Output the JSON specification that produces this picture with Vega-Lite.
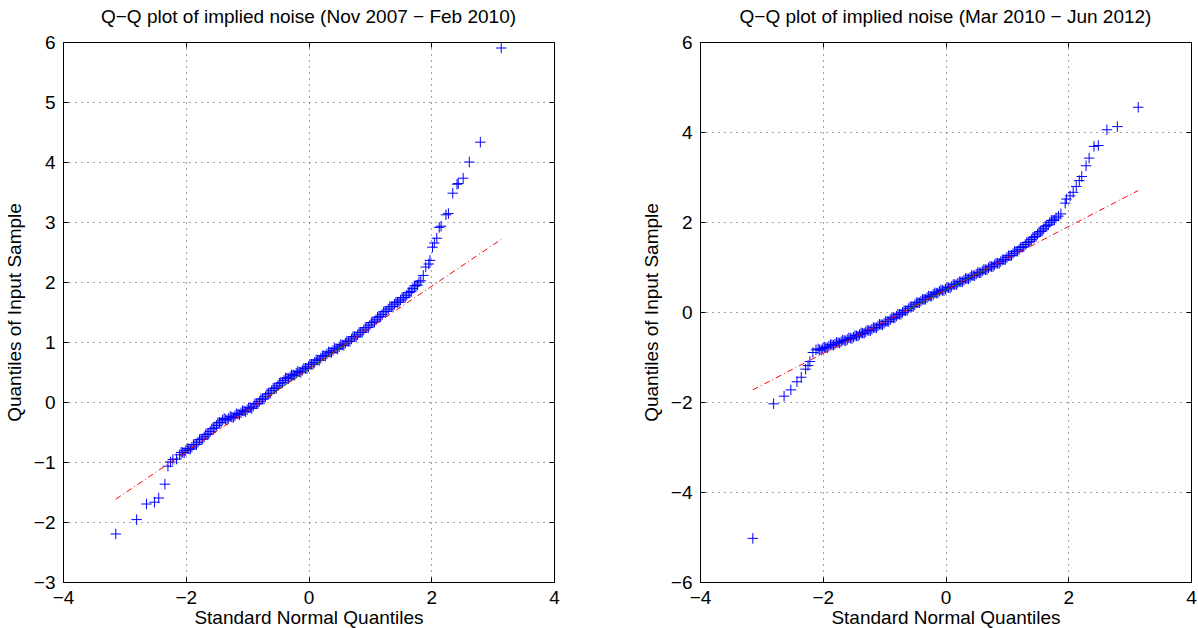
{
  "$schema": "https://vega.github.io/schema/vega-lite/v6.json",
  "padding": {"left": 4, "top": 7, "right": 5, "bottom": 2},
  "background": "white",
  "spacing": 146,
  "bounds": "flush",
  "config": {
    "font": "Liberation Sans",
    "view": {"stroke": "#000000", "strokeWidth": 1},
    "axis": {
      "grid": true, "gridColor": "#444444", "gridDash": [1, 5], "gridWidth": 1, "gridOpacity": 1,
      "domain": true, "domainColor": "#000000", "domainWidth": 1,
      "tickColor": "#000000", "tickSize": -5, "tickWidth": 1,
      "labelFont": "Liberation Sans", "labelFontSize": 19, "labelColor": "#000000",
      "labelFlush": false, "labelOverlap": false, "labelBound": false,
      "titleFont": "Liberation Sans", "titleFontSize": 19, "titleFontWeight": "normal", "titleColor": "#000000"
    },
    "axisX": {"labelPadding": 11, "titlePadding": 1},
    "axisY": {"labelPadding": 13, "titlePadding": 9},
    "title": {"font": "Liberation Sans", "fontSize": 19, "fontWeight": "normal", "color": "#000000", "anchor": "middle", "offset": 6}
  },
  "datasets": {
    "left": [
      {"x": -3.14, "y": -2.2}, {"x": -2.8, "y": -1.96}, {"x": -2.64, "y": -1.7}, {"x": -2.51, "y": -1.67}, {"x": -2.44, "y": -1.6},
      {"x": -2.34, "y": -1.37}, {"x": -2.29, "y": -1.07}, {"x": -2.25, "y": -1.0}, {"x": -2.21, "y": -0.96}, {"x": -2.15, "y": -0.95},
      {"x": -2.1, "y": -0.88}, {"x": -2.05, "y": -0.84}, {"x": -2.0, "y": -0.81}, {"x": -1.95, "y": -0.78}, {"x": -1.9, "y": -0.75},
      {"x": -1.85, "y": -0.71}, {"x": -1.8, "y": -0.67}, {"x": -1.75, "y": -0.62}, {"x": -1.7, "y": -0.58}, {"x": -1.65, "y": -0.54},
      {"x": -1.6, "y": -0.49}, {"x": -1.55, "y": -0.44}, {"x": -1.5, "y": -0.39}, {"x": -1.45, "y": -0.34}, {"x": -1.4, "y": -0.3},
      {"x": -1.35, "y": -0.29}, {"x": -1.3, "y": -0.27}, {"x": -1.25, "y": -0.25}, {"x": -1.2, "y": -0.23}, {"x": -1.15, "y": -0.2},
      {"x": -1.1, "y": -0.18}, {"x": -1.05, "y": -0.15}, {"x": -1.0, "y": -0.13}, {"x": -0.95, "y": -0.1}, {"x": -0.9, "y": -0.07},
      {"x": -0.85, "y": -0.03}, {"x": -0.8, "y": 0.01}, {"x": -0.75, "y": 0.05}, {"x": -0.7, "y": 0.09}, {"x": -0.65, "y": 0.14},
      {"x": -0.6, "y": 0.19}, {"x": -0.55, "y": 0.23}, {"x": -0.5, "y": 0.27}, {"x": -0.45, "y": 0.32}, {"x": -0.4, "y": 0.36},
      {"x": -0.35, "y": 0.4}, {"x": -0.3, "y": 0.42}, {"x": -0.25, "y": 0.45}, {"x": -0.2, "y": 0.48}, {"x": -0.15, "y": 0.5},
      {"x": -0.1, "y": 0.53}, {"x": -0.05, "y": 0.56}, {"x": 0.0, "y": 0.59}, {"x": 0.05, "y": 0.63}, {"x": 0.1, "y": 0.66},
      {"x": 0.15, "y": 0.7}, {"x": 0.2, "y": 0.73}, {"x": 0.25, "y": 0.77}, {"x": 0.3, "y": 0.8}, {"x": 0.35, "y": 0.83},
      {"x": 0.4, "y": 0.86}, {"x": 0.45, "y": 0.89}, {"x": 0.5, "y": 0.92}, {"x": 0.55, "y": 0.95}, {"x": 0.6, "y": 0.98},
      {"x": 0.65, "y": 1.01}, {"x": 0.7, "y": 1.05}, {"x": 0.75, "y": 1.09}, {"x": 0.8, "y": 1.12}, {"x": 0.85, "y": 1.16},
      {"x": 0.9, "y": 1.2}, {"x": 0.95, "y": 1.24}, {"x": 1.0, "y": 1.28}, {"x": 1.05, "y": 1.33}, {"x": 1.1, "y": 1.37},
      {"x": 1.15, "y": 1.42}, {"x": 1.2, "y": 1.46}, {"x": 1.25, "y": 1.51}, {"x": 1.3, "y": 1.55}, {"x": 1.35, "y": 1.59},
      {"x": 1.4, "y": 1.63}, {"x": 1.45, "y": 1.66}, {"x": 1.5, "y": 1.7}, {"x": 1.55, "y": 1.74}, {"x": 1.6, "y": 1.78},
      {"x": 1.65, "y": 1.83}, {"x": 1.7, "y": 1.89}, {"x": 1.75, "y": 1.94}, {"x": 1.8, "y": 2.0}, {"x": 1.83, "y": 2.02},
      {"x": 1.87, "y": 2.11}, {"x": 1.91, "y": 2.25}, {"x": 1.96, "y": 2.3}, {"x": 1.98, "y": 2.36}, {"x": 2.02, "y": 2.58},
      {"x": 2.05, "y": 2.65}, {"x": 2.09, "y": 2.73}, {"x": 2.13, "y": 2.91}, {"x": 2.16, "y": 2.93}, {"x": 2.24, "y": 3.12},
      {"x": 2.28, "y": 3.14}, {"x": 2.35, "y": 3.48}, {"x": 2.42, "y": 3.63}, {"x": 2.44, "y": 3.64}, {"x": 2.52, "y": 3.73},
      {"x": 2.62, "y": 4.0}, {"x": 2.8, "y": 4.33}, {"x": 3.14, "y": 5.9},
      {"x": -2.075, "y": -0.84}, {"x": -2.025, "y": -0.845}, {"x": -1.975, "y": -0.775}, {"x": -1.925, "y": -0.785}, {"x": -1.875, "y": -0.71},
      {"x": -1.825, "y": -0.71}, {"x": -1.775, "y": -0.625}, {"x": -1.725, "y": -0.62}, {"x": -1.675, "y": -0.54}, {"x": -1.625, "y": -0.535},
      {"x": -1.575, "y": -0.445}, {"x": -1.525, "y": -0.435}, {"x": -1.475, "y": -0.345}, {"x": -1.425, "y": -0.34}, {"x": -1.375, "y": -0.275},
      {"x": -1.325, "y": -0.3}, {"x": -1.275, "y": -0.24}, {"x": -1.225, "y": -0.26}, {"x": -1.175, "y": -0.195}, {"x": -1.125, "y": -0.21},
      {"x": -1.075, "y": -0.145}, {"x": -1.025, "y": -0.16}, {"x": -0.975, "y": -0.095}, {"x": -0.925, "y": -0.105}, {"x": -0.875, "y": -0.03},
      {"x": -0.825, "y": -0.03}, {"x": -0.775, "y": 0.05}, {"x": -0.725, "y": 0.05}, {"x": -0.675, "y": 0.135}, {"x": -0.625, "y": 0.145},
      {"x": -0.575, "y": 0.23}, {"x": -0.525, "y": 0.23}, {"x": -0.475, "y": 0.315}, {"x": -0.425, "y": 0.32}, {"x": -0.375, "y": 0.4},
      {"x": -0.325, "y": 0.39}, {"x": -0.275, "y": 0.455}, {"x": -0.225, "y": 0.445}, {"x": -0.175, "y": 0.51}, {"x": -0.125, "y": 0.495},
      {"x": -0.075, "y": 0.565}, {"x": -0.025, "y": 0.555}, {"x": 0.025, "y": 0.63}, {"x": 0.075, "y": 0.625}, {"x": 0.125, "y": 0.7},
      {"x": 0.175, "y": 0.695}, {"x": 0.225, "y": 0.77}, {"x": 0.275, "y": 0.765}, {"x": 0.325, "y": 0.835}, {"x": 0.375, "y": 0.825},
      {"x": 0.425, "y": 0.895}, {"x": 0.475, "y": 0.885}, {"x": 0.525, "y": 0.955}, {"x": 0.575, "y": 0.945}, {"x": 0.625, "y": 1.015},
      {"x": 0.675, "y": 1.01}, {"x": 0.725, "y": 1.09}, {"x": 0.775, "y": 1.085}, {"x": 0.825, "y": 1.16}, {"x": 0.875, "y": 1.16},
      {"x": 0.925, "y": 1.24}, {"x": 0.975, "y": 1.24}, {"x": 1.025, "y": 1.325}, {"x": 1.075, "y": 1.33}, {"x": 1.125, "y": 1.415},
      {"x": 1.175, "y": 1.42}, {"x": 1.225, "y": 1.505}, {"x": 1.275, "y": 1.51}, {"x": 1.325, "y": 1.59}, {"x": 1.375, "y": 1.59},
      {"x": 1.425, "y": 1.665}, {"x": 1.475, "y": 1.66}, {"x": 1.525, "y": 1.74}, {"x": 1.575, "y": 1.74}, {"x": 1.625, "y": 1.825},
      {"x": 1.675, "y": 1.84}, {"x": 1.725, "y": 1.935}, {"x": 1.775, "y": 1.95}
    ],
    "right": [
      {"x": -3.14, "y": -5.03}, {"x": -2.8, "y": -2.04}, {"x": -2.63, "y": -1.87}, {"x": -2.52, "y": -1.73}, {"x": -2.42, "y": -1.55},
      {"x": -2.35, "y": -1.45}, {"x": -2.28, "y": -1.27}, {"x": -2.24, "y": -1.19}, {"x": -2.21, "y": -1.1}, {"x": -2.16, "y": -0.9},
      {"x": -2.11, "y": -0.84}, {"x": -2.05, "y": -0.84}, {"x": -2.0, "y": -0.81}, {"x": -1.95, "y": -0.79}, {"x": -1.9, "y": -0.76},
      {"x": -1.85, "y": -0.73}, {"x": -1.8, "y": -0.71}, {"x": -1.75, "y": -0.68}, {"x": -1.7, "y": -0.66}, {"x": -1.65, "y": -0.63},
      {"x": -1.6, "y": -0.61}, {"x": -1.55, "y": -0.58}, {"x": -1.5, "y": -0.56}, {"x": -1.45, "y": -0.53}, {"x": -1.4, "y": -0.5},
      {"x": -1.35, "y": -0.47}, {"x": -1.3, "y": -0.44}, {"x": -1.25, "y": -0.41}, {"x": -1.2, "y": -0.38}, {"x": -1.15, "y": -0.35},
      {"x": -1.1, "y": -0.31}, {"x": -1.05, "y": -0.28}, {"x": -1.0, "y": -0.25}, {"x": -0.95, "y": -0.21}, {"x": -0.9, "y": -0.17},
      {"x": -0.85, "y": -0.13}, {"x": -0.8, "y": -0.09}, {"x": -0.75, "y": -0.05}, {"x": -0.7, "y": -0.01}, {"x": -0.65, "y": 0.03},
      {"x": -0.6, "y": 0.08}, {"x": -0.55, "y": 0.12}, {"x": -0.5, "y": 0.16}, {"x": -0.45, "y": 0.21}, {"x": -0.4, "y": 0.24},
      {"x": -0.35, "y": 0.28}, {"x": -0.3, "y": 0.32}, {"x": -0.25, "y": 0.35}, {"x": -0.2, "y": 0.39}, {"x": -0.15, "y": 0.42},
      {"x": -0.1, "y": 0.46}, {"x": -0.05, "y": 0.48}, {"x": 0.0, "y": 0.51}, {"x": 0.05, "y": 0.54}, {"x": 0.1, "y": 0.57},
      {"x": 0.15, "y": 0.61}, {"x": 0.2, "y": 0.64}, {"x": 0.25, "y": 0.67}, {"x": 0.3, "y": 0.71}, {"x": 0.35, "y": 0.74},
      {"x": 0.4, "y": 0.77}, {"x": 0.45, "y": 0.81}, {"x": 0.5, "y": 0.84}, {"x": 0.55, "y": 0.87}, {"x": 0.6, "y": 0.91},
      {"x": 0.65, "y": 0.94}, {"x": 0.7, "y": 0.98}, {"x": 0.75, "y": 1.01}, {"x": 0.8, "y": 1.05}, {"x": 0.85, "y": 1.08},
      {"x": 0.9, "y": 1.12}, {"x": 0.95, "y": 1.16}, {"x": 1.0, "y": 1.21}, {"x": 1.05, "y": 1.25}, {"x": 1.1, "y": 1.3},
      {"x": 1.15, "y": 1.35}, {"x": 1.2, "y": 1.39}, {"x": 1.25, "y": 1.44}, {"x": 1.3, "y": 1.5}, {"x": 1.35, "y": 1.55},
      {"x": 1.4, "y": 1.61}, {"x": 1.45, "y": 1.67}, {"x": 1.5, "y": 1.73}, {"x": 1.55, "y": 1.79}, {"x": 1.6, "y": 1.85},
      {"x": 1.65, "y": 1.92}, {"x": 1.7, "y": 1.99}, {"x": 1.75, "y": 2.04}, {"x": 1.8, "y": 2.09}, {"x": 1.84, "y": 2.13},
      {"x": 1.88, "y": 2.18}, {"x": 1.95, "y": 2.42}, {"x": 1.97, "y": 2.51}, {"x": 2.03, "y": 2.58}, {"x": 2.08, "y": 2.66},
      {"x": 2.13, "y": 2.79}, {"x": 2.18, "y": 2.92}, {"x": 2.22, "y": 3.01}, {"x": 2.29, "y": 3.25}, {"x": 2.34, "y": 3.42},
      {"x": 2.42, "y": 3.68}, {"x": 2.49, "y": 3.7}, {"x": 2.63, "y": 4.05}, {"x": 2.8, "y": 4.12}, {"x": 3.14, "y": 4.55},
      {"x": -2.075, "y": -0.82}, {"x": -2.025, "y": -0.845}, {"x": -1.975, "y": -0.78}, {"x": -1.925, "y": -0.795}, {"x": -1.875, "y": -0.725},
      {"x": -1.825, "y": -0.74}, {"x": -1.775, "y": -0.675}, {"x": -1.725, "y": -0.69}, {"x": -1.675, "y": -0.625}, {"x": -1.625, "y": -0.64},
      {"x": -1.575, "y": -0.575}, {"x": -1.525, "y": -0.59}, {"x": -1.475, "y": -0.525}, {"x": -1.425, "y": -0.535}, {"x": -1.375, "y": -0.465},
      {"x": -1.325, "y": -0.475}, {"x": -1.275, "y": -0.405}, {"x": -1.225, "y": -0.415}, {"x": -1.175, "y": -0.345}, {"x": -1.125, "y": -0.35},
      {"x": -1.075, "y": -0.275}, {"x": -1.025, "y": -0.285}, {"x": -0.975, "y": -0.21}, {"x": -0.925, "y": -0.21}, {"x": -0.875, "y": -0.13},
      {"x": -0.825, "y": -0.13}, {"x": -0.775, "y": -0.05}, {"x": -0.725, "y": -0.05}, {"x": -0.675, "y": 0.03}, {"x": -0.625, "y": 0.035},
      {"x": -0.575, "y": 0.12}, {"x": -0.525, "y": 0.12}, {"x": -0.475, "y": 0.205}, {"x": -0.425, "y": 0.205}, {"x": -0.375, "y": 0.28},
      {"x": -0.325, "y": 0.28}, {"x": -0.275, "y": 0.355}, {"x": -0.225, "y": 0.35}, {"x": -0.175, "y": 0.425}, {"x": -0.125, "y": 0.42},
      {"x": -0.075, "y": 0.49}, {"x": -0.025, "y": 0.475}, {"x": 0.025, "y": 0.545}, {"x": 0.075, "y": 0.535}, {"x": 0.125, "y": 0.61},
      {"x": 0.175, "y": 0.605}, {"x": 0.225, "y": 0.675}, {"x": 0.275, "y": 0.67}, {"x": 0.325, "y": 0.745}, {"x": 0.375, "y": 0.735},
      {"x": 0.425, "y": 0.81}, {"x": 0.475, "y": 0.805}, {"x": 0.525, "y": 0.875}, {"x": 0.575, "y": 0.87}, {"x": 0.625, "y": 0.945},
      {"x": 0.675, "y": 0.94}, {"x": 0.725, "y": 1.015}, {"x": 0.775, "y": 1.01}, {"x": 0.825, "y": 1.085}, {"x": 0.875, "y": 1.08},
      {"x": 0.925, "y": 1.16}, {"x": 0.975, "y": 1.165}, {"x": 1.025, "y": 1.25}, {"x": 1.075, "y": 1.255}, {"x": 1.125, "y": 1.345},
      {"x": 1.175, "y": 1.35}, {"x": 1.225, "y": 1.435}, {"x": 1.275, "y": 1.45}, {"x": 1.325, "y": 1.545}, {"x": 1.375, "y": 1.56},
      {"x": 1.425, "y": 1.66}, {"x": 1.475, "y": 1.68}, {"x": 1.525, "y": 1.78}, {"x": 1.575, "y": 1.8}, {"x": 1.625, "y": 1.905},
      {"x": 1.675, "y": 1.935}, {"x": 1.725, "y": 2.035}, {"x": 1.775, "y": 2.045}
    ],
    "leftLine": [{"x": -3.14, "y": -1.62}, {"x": 3.14, "y": 2.71}],
    "rightLine": [{"x": -3.14, "y": -1.73}, {"x": 3.14, "y": 2.70}],
    "leftQ": [{"x": -0.674, "y": 0.08}, {"x": 0.674, "y": 1.01}],
    "rightQ": [{"x": -0.674, "y": 0.01}, {"x": 0.674, "y": 0.96}]
  },
  "hconcat": [
    {
      "width": 491, "height": 540,
      "title": {"text": "Q−Q plot of implied noise (Nov 2007 − Feb 2010)"},
      "resolve": {"axis": {"x": "independent", "y": "independent"}},
      "layer": [
        {
          "data": {"name": "left"},
          "mark": {"type": "point", "shape": "M-1,0L1,0M0,-1L0,1", "filled": false, "stroke": "#0000ff", "strokeWidth": 1, "size": 110, "opacity": 1},
          "encoding": {
            "x": {"field": "x", "type": "quantitative", "scale": {"domain": [-4, 4], "nice": false, "zero": false}, "axis": {"values": [-4, -2, 0, 2, 4], "title": "Standard Normal Quantiles", "orient": "bottom"}},
            "y": {"field": "y", "type": "quantitative", "scale": {"domain": [-3, 6], "nice": false, "zero": false}, "axis": {"values": [-3, -2, -1, 0, 1, 2, 3, 4, 5, 6], "title": "Quantiles of Input Sample", "orient": "left"}}
          }
        },
        {
          "data": {"name": "leftQ"},
          "mark": {"type": "line", "color": "#008000", "strokeWidth": 1},
          "encoding": {
            "x": {"field": "x", "type": "quantitative", "axis": null},
            "y": {"field": "y", "type": "quantitative", "axis": null}
          }
        },
        {
          "data": {"name": "leftLine"},
          "mark": {"type": "line", "color": "#ff0000", "strokeWidth": 1, "strokeDash": [6, 3, 1, 3]},
          "encoding": {
            "x": {"field": "x", "type": "quantitative", "axis": {"orient": "top", "values": [-4, -2, 0, 2, 4], "labels": false, "title": null, "grid": false}},
            "y": {"field": "y", "type": "quantitative", "axis": {"orient": "right", "values": [-3, -2, -1, 0, 1, 2, 3, 4, 5, 6], "labels": false, "title": null, "grid": false}}
          }
        }
      ]
    },
    {
      "width": 491, "height": 540,
      "title": {"text": "Q−Q plot of implied noise (Mar 2010 − Jun 2012)"},
      "resolve": {"axis": {"x": "independent", "y": "independent"}},
      "layer": [
        {
          "data": {"name": "right"},
          "mark": {"type": "point", "shape": "M-1,0L1,0M0,-1L0,1", "filled": false, "stroke": "#0000ff", "strokeWidth": 1, "size": 110, "opacity": 1},
          "encoding": {
            "x": {"field": "x", "type": "quantitative", "scale": {"domain": [-4, 4], "nice": false, "zero": false}, "axis": {"values": [-4, -2, 0, 2, 4], "title": "Standard Normal Quantiles", "orient": "bottom"}},
            "y": {"field": "y", "type": "quantitative", "scale": {"domain": [-6, 6], "nice": false, "zero": false}, "axis": {"values": [-6, -4, -2, 0, 2, 4, 6], "title": "Quantiles of Input Sample", "orient": "left"}}
          }
        },
        {
          "data": {"name": "rightQ"},
          "mark": {"type": "line", "color": "#008000", "strokeWidth": 1},
          "encoding": {
            "x": {"field": "x", "type": "quantitative", "axis": null},
            "y": {"field": "y", "type": "quantitative", "axis": null}
          }
        },
        {
          "data": {"name": "rightLine"},
          "mark": {"type": "line", "color": "#ff0000", "strokeWidth": 1, "strokeDash": [6, 3, 1, 3]},
          "encoding": {
            "x": {"field": "x", "type": "quantitative", "axis": {"orient": "top", "values": [-4, -2, 0, 2, 4], "labels": false, "title": null, "grid": false}},
            "y": {"field": "y", "type": "quantitative", "axis": {"orient": "right", "values": [-6, -4, -2, 0, 2, 4, 6], "labels": false, "title": null, "grid": false}}
          }
        }
      ]
    }
  ]
}
